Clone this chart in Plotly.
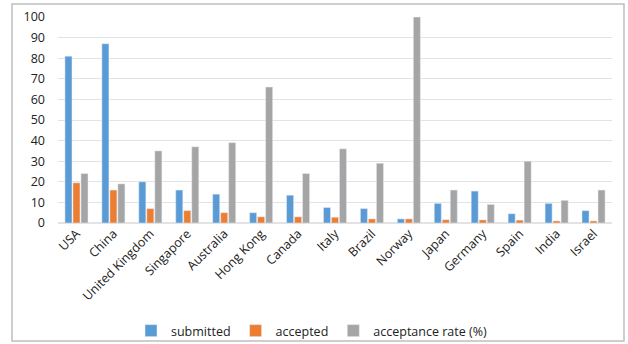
import plotly.graph_objects as go

countries = ["USA", "China", "United Kingdom", "Singapore", "Australia", "Hong Kong",
             "Canada", "Italy", "Brazil", "Norway", "Japan", "Germany", "Spain",
             "India", "Israel"]
submitted = [81, 87, 20, 16, 14, 5, 13.5, 7.5, 7, 2, 9.5, 15.5, 4.5, 9.5, 6]
accepted = [19.5, 16, 7, 6, 5, 3, 3, 2.8, 2, 2, 1.6, 1.5, 1.4, 1, 1]
acceptance_rate = [24, 19, 35, 37, 39, 66, 24, 36, 29, 100, 16, 9, 30, 11, 16]

W, H = 628, 344
ML, MR, MT, MB = 58, 16, 17, 121

fig = go.Figure()
fig.add_bar(x=countries, y=submitted, name="submitted", marker_color="#5B9BD5")
fig.add_bar(x=countries, y=accepted, name="accepted", marker_color="#ED7D31")
fig.add_bar(x=countries, y=acceptance_rate, name="acceptance rate (%)", marker_color="#A5A5A5")

pw, ph = W - ML - MR, H - MT - MB


def px_x(p):
    return (p - ML) / pw


def px_y(p):
    return (H - MB - p) / ph


# outer chart frame
fig.add_shape(type="rect", xref="paper", yref="paper",
              x0=px_x(12), x1=px_x(624), y0=px_y(341), y1=px_y(4),
              line=dict(color="#BFBFBF", width=1.5), fillcolor="rgba(0,0,0,0)")

fig.update_layout(
    width=W, height=H,
    margin=dict(l=ML, r=MR, t=MT, b=MB, autoexpand=False),
    paper_bgcolor="white", plot_bgcolor="white",
    font=dict(family="Open Sans", size=12.5, color="#222222"),
    barmode="group", bargap=0.35, bargroupgap=0.12,
    showlegend=True,
    legend=dict(orientation="h", xref="container", x=312 / W, xanchor="center",
                yref="container", y=1 - 331 / H, yanchor="middle",
                font=dict(size=12.5), bgcolor="rgba(0,0,0,0)",
                itemwidth=30, traceorder="normal"),
    xaxis=dict(tickangle=-45, showgrid=False, showline=False, ticks="",
               automargin=False),
    yaxis=dict(range=[0, 100], dtick=10, showgrid=True, gridcolor="#E3E3E3",
               gridwidth=1, zeroline=True, zerolinecolor="#E3E3E3",
               showline=False, ticks="", ticklabelstandoff=12, automargin=False),
)

fig.write_html("out.html")
